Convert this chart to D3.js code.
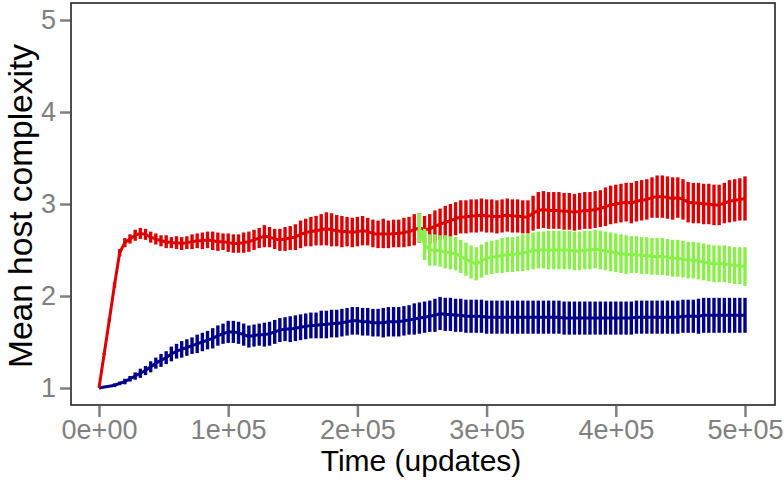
<!DOCTYPE html>
<html>
<head>
<meta charset="utf-8">
<script src="https://cdn.jsdelivr.net/npm/d3@7"></script>
<style>
  body { margin: 0; background: #fff; }
  text { font-family: "Liberation Sans", Arial, sans-serif; }
</style>
</head>
<body>
<div id="chart"></div>
<script>
// sampled every 4000 updates, from 0 to 5e5
var step = 4000
var times = d3.range(0, 500001, step)
var greenStart = 248000

var redMean = [
  1.00, 1.37, 1.74, 2.12, 2.47, 2.58, 2.62, 2.66, 2.68, 2.67,
  2.64, 2.62, 2.60, 2.59, 2.58, 2.58, 2.57, 2.58, 2.59, 2.60,
  2.60, 2.61, 2.60, 2.59, 2.59, 2.58, 2.57, 2.57, 2.58, 2.59,
  2.61, 2.63, 2.65, 2.64, 2.62, 2.61, 2.62, 2.63, 2.64, 2.67,
  2.69, 2.70, 2.71, 2.72, 2.73, 2.72, 2.71, 2.70, 2.70, 2.69,
  2.70, 2.71, 2.70, 2.68, 2.67, 2.68, 2.67, 2.68, 2.68, 2.69,
  2.70, 2.72, 2.74, 2.72, 2.73, 2.76, 2.78, 2.80, 2.82, 2.84,
  2.86, 2.86, 2.87, 2.87, 2.88, 2.87, 2.87, 2.86, 2.87, 2.88,
  2.87, 2.87, 2.86, 2.86, 2.90, 2.93, 2.94, 2.93, 2.93, 2.93,
  2.92, 2.92, 2.91, 2.92, 2.93, 2.93, 2.94, 2.95, 2.97, 2.99,
  3.00, 3.01, 3.02, 3.01, 3.03, 3.04, 3.05, 3.07, 3.08, 3.08,
  3.07, 3.06, 3.07, 3.05, 3.02, 3.01, 3.01, 3.00, 3.00, 2.99,
  2.99, 3.01, 3.03, 3.04, 3.05, 3.06
]
var redErr = [
  0.00, 0.01, 0.02, 0.03, 0.04, 0.05, 0.05, 0.06, 0.06, 0.06,
  0.06, 0.06, 0.06, 0.07, 0.06, 0.07, 0.07, 0.07, 0.08, 0.08,
  0.09, 0.09, 0.10, 0.10, 0.09, 0.10, 0.10, 0.10, 0.11, 0.11,
  0.11, 0.11, 0.12, 0.11, 0.11, 0.12, 0.13, 0.13, 0.14, 0.15,
  0.15, 0.16, 0.16, 0.17, 0.18, 0.18, 0.17, 0.17, 0.16, 0.16,
  0.16, 0.16, 0.15, 0.15, 0.15, 0.16, 0.15, 0.15, 0.15, 0.16,
  0.16, 0.17, 0.16, 0.15, 0.16, 0.17, 0.17, 0.18, 0.18, 0.18,
  0.18, 0.18, 0.18, 0.18, 0.18, 0.18, 0.18, 0.18, 0.18, 0.18,
  0.18, 0.18, 0.18, 0.18, 0.19, 0.20, 0.20, 0.20, 0.20, 0.20,
  0.20, 0.20, 0.20, 0.20, 0.20, 0.20, 0.20, 0.20, 0.21, 0.21,
  0.21, 0.21, 0.21, 0.22, 0.22, 0.22, 0.22, 0.22, 0.23, 0.23,
  0.23, 0.23, 0.22, 0.22, 0.22, 0.22, 0.22, 0.22, 0.22, 0.22,
  0.22, 0.22, 0.23, 0.23, 0.23, 0.24
]

var blueMean = [
  1.00, 1.01, 1.02, 1.03, 1.05, 1.07, 1.10, 1.13, 1.16, 1.19,
  1.23, 1.27, 1.30, 1.33, 1.37, 1.40, 1.42, 1.44, 1.46, 1.48,
  1.50, 1.52, 1.54, 1.57, 1.59, 1.61, 1.61, 1.60, 1.58, 1.56,
  1.57, 1.58, 1.58, 1.59, 1.61, 1.63, 1.64, 1.64, 1.65, 1.66,
  1.67, 1.68, 1.68, 1.69, 1.69, 1.70, 1.70, 1.71, 1.72, 1.73,
  1.73, 1.72, 1.72, 1.71, 1.71, 1.71, 1.72, 1.72, 1.72, 1.73,
  1.74, 1.75, 1.76, 1.77, 1.78, 1.79, 1.81, 1.80, 1.80, 1.79,
  1.79, 1.78, 1.78, 1.78, 1.78, 1.77, 1.77, 1.77, 1.77, 1.77,
  1.77, 1.77, 1.77, 1.77, 1.77, 1.77, 1.77, 1.77, 1.77, 1.77,
  1.76, 1.76, 1.76, 1.76, 1.76, 1.76, 1.76, 1.76, 1.76, 1.76,
  1.76, 1.76, 1.76, 1.76, 1.77, 1.77, 1.77, 1.77, 1.77, 1.77,
  1.77, 1.77, 1.77, 1.78, 1.78, 1.78, 1.78, 1.79, 1.79, 1.79,
  1.79, 1.79, 1.79, 1.79, 1.79, 1.79
]
var blueErr = [
  0.00, 0.01, 0.01, 0.02, 0.02, 0.03, 0.03, 0.04, 0.05, 0.05,
  0.06, 0.06, 0.07, 0.07, 0.08, 0.08, 0.09, 0.09, 0.09, 0.10,
  0.10, 0.10, 0.11, 0.11, 0.11, 0.12, 0.12, 0.12, 0.12, 0.12,
  0.12, 0.12, 0.13, 0.13, 0.13, 0.13, 0.13, 0.14, 0.14, 0.14,
  0.14, 0.14, 0.14, 0.15, 0.15, 0.15, 0.15, 0.15, 0.15, 0.15,
  0.15, 0.15, 0.15, 0.15, 0.15, 0.16, 0.16, 0.16, 0.16, 0.16,
  0.16, 0.17, 0.17, 0.17, 0.17, 0.18, 0.18, 0.18, 0.18, 0.18,
  0.18, 0.18, 0.18, 0.18, 0.18, 0.18, 0.18, 0.18, 0.18, 0.18,
  0.18, 0.18, 0.18, 0.18, 0.18, 0.18, 0.18, 0.18, 0.18, 0.18,
  0.18, 0.18, 0.18, 0.18, 0.18, 0.18, 0.18, 0.18, 0.18, 0.18,
  0.18, 0.18, 0.18, 0.18, 0.18, 0.18, 0.18, 0.18, 0.18, 0.18,
  0.18, 0.18, 0.18, 0.18, 0.18, 0.18, 0.19, 0.19, 0.19, 0.19,
  0.19, 0.19, 0.19, 0.19, 0.19, 0.19
]

// green run only starts at update 248000
var greenMean = [
  2.74, 2.56, 2.50, 2.50, 2.49, 2.48, 2.47, 2.46, 2.43, 2.40,
  2.37, 2.35, 2.38, 2.41, 2.42, 2.43, 2.44, 2.45, 2.45, 2.46,
  2.47, 2.48, 2.49, 2.50, 2.50, 2.50, 2.50, 2.50, 2.50, 2.50,
  2.49, 2.49, 2.50, 2.50, 2.51, 2.50, 2.49, 2.48, 2.47, 2.46,
  2.45, 2.45, 2.45, 2.44, 2.44, 2.43, 2.43, 2.43, 2.42, 2.41,
  2.41, 2.40, 2.39, 2.39, 2.38, 2.37, 2.36, 2.35, 2.35, 2.35,
  2.34, 2.33, 2.33, 2.32
]
var greenErr = [
  0.16, 0.17, 0.17, 0.17, 0.17, 0.18, 0.18, 0.18, 0.18, 0.18,
  0.18, 0.18, 0.18, 0.18, 0.18, 0.18, 0.19, 0.19, 0.19, 0.19,
  0.20, 0.20, 0.20, 0.20, 0.20, 0.21, 0.21, 0.21, 0.21, 0.21,
  0.21, 0.21, 0.21, 0.21, 0.21, 0.21, 0.21, 0.21, 0.21, 0.21,
  0.21, 0.20, 0.20, 0.20, 0.20, 0.20, 0.20, 0.20, 0.20, 0.20,
  0.20, 0.20, 0.20, 0.20, 0.20, 0.20, 0.20, 0.20, 0.20, 0.20,
  0.20, 0.20, 0.20, 0.21
]

var yTicks = [1, 2, 3, 4, 5]
var xTicks = [0, 100000, 200000, 300000, 400000, 500000]
var xTickLabels = ["0e+00", "1e+05", "2e+05", "3e+05", "4e+05", "5e+05"]

var width = 784
    height = 484

var svg = d3.select("#chart")
  .append("svg")
    .attr("width", width)
    .attr("height", height)

var x = d3.scaleLinear().domain([0, 500000]).range([99, 745])
var y = d3.scaleLinear().domain([1, 5]).range([388, 20])

function series(mean, err, offset) {
  return mean.map(function(v, i) {
    return { t: times[i + offset], v: v, e: err[i] }
  })
}

// draw order: blue, red, then green on top
var runs = [
  { name: "blue", color: "#000088", data: series(blueMean, blueErr, 0) },
  { name: "red", color: "#dd0000", data: series(redMean, redErr, 0) },
  { name: "green", color: "#88f048", data: series(greenMean, greenErr, greenStart / step) }
]

var line = d3.line()
  .x(function(d) { return x(d.t) })
  .y(function(d) { return y(d.v) })

runs.forEach(function(r) {
  var g = svg.append("g").attr("class", r.name)
  // error bars
  g.selectAll("line")
    .data(r.data)
    .enter()
    .append("line")
      .attr("x1", function(d) { return x(d.t) })
      .attr("x2", function(d) { return x(d.t) })
      .attr("y1", function(d) { return y(d.v - d.e) })
      .attr("y2", function(d) { return y(d.v + d.e) })
      .attr("stroke", r.color)
      .attr("stroke-width", 3.4)
  g.append("path")
    .datum(r.data)
    .attr("d", line)
    .attr("fill", "none")
    .attr("stroke", r.color)
    .attr("stroke-width", 3)
    .attr("stroke-linejoin", "round")
})

// plot frame
svg.append("rect")
  .attr("x", 71)
  .attr("y", 3)
  .attr("width", 704)
  .attr("height", 402)
  .attr("fill", "none")
  .attr("stroke", "#222")
  .attr("stroke-width", 1.6)

var yAxis = svg.append("g")
  .attr("transform", "translate(70,0)")
  .call(d3.axisLeft(y).tickValues(yTicks).tickSize(10).tickPadding(4).tickFormat(d3.format("d")))
var xAxis = svg.append("g")
  .attr("transform", "translate(0,406)")
  .call(d3.axisBottom(x).tickValues(xTicks).tickSize(11).tickPadding(3)
    .tickFormat(function(d, i) { return xTickLabels[i] }))

;[yAxis, xAxis].forEach(function(a) {
  a.select(".domain").remove()
  a.selectAll(".tick line").attr("stroke", "#808080").attr("stroke-width", 2.5)
  a.selectAll(".tick text")
    .attr("fill", "#808080")
    .style("font-size", "27px")
    .style("font-family", "'Liberation Sans', Arial, sans-serif")
})

svg.append("text")
  .attr("x", 421)
  .attr("y", 471)
  .attr("text-anchor", "middle")
  .style("font-size", "30px")
  .text("Time (updates)")

svg.append("text")
  .attr("transform", "translate(32,206) rotate(-90)")
  .attr("text-anchor", "middle")
  .style("font-size", "33.5px")
  .text("Mean host complexity")
</script>
</body>
</html>
